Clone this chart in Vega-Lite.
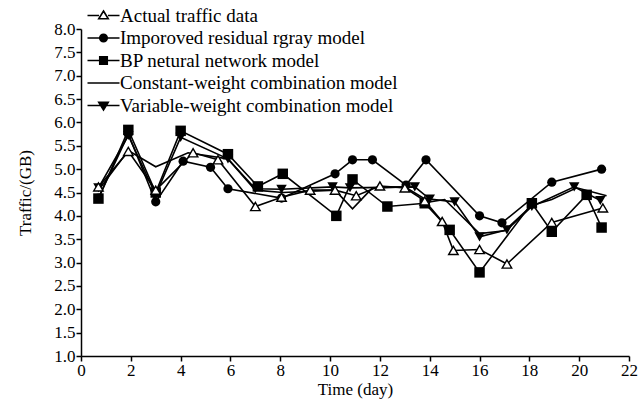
{
  "$schema": "https://vega.github.io/schema/vega-lite/v6.json",
  "width": 548,
  "height": 327,
  "autosize": {"type": "none"},
  "padding": {"left": 81, "top": 29, "right": 14, "bottom": 56},
  "background": "white",
  "config": {
    "view": {"stroke": null},
    "font": "Liberation Serif",
    "axis": {
      "grid": false,
      "domainColor": "black",
      "domainWidth": 1.5,
      "tickColor": "black",
      "tickWidth": 1.5,
      "tickSize": 5,
      "labelColor": "black",
      "labelFont": "Liberation Serif",
      "labelFontSize": 17,
      "titleFont": "Liberation Serif",
      "titleFontSize": 17,
      "titleFontWeight": "normal",
      "titleColor": "black"
    }
  },
  "datasets": {
    "traffic": [
      {"s": "Actual traffic data", "x": 0.7, "y": 4.62},
      {"s": "Actual traffic data", "x": 1.9, "y": 5.38},
      {"s": "Actual traffic data", "x": 3.0, "y": 4.55},
      {"s": "Actual traffic data", "x": 4.5, "y": 5.35},
      {"s": "Actual traffic data", "x": 5.5, "y": 5.2},
      {"s": "Actual traffic data", "x": 7.0, "y": 4.2},
      {"s": "Actual traffic data", "x": 8.05, "y": 4.4},
      {"s": "Actual traffic data", "x": 9.2, "y": 4.55},
      {"s": "Actual traffic data", "x": 10.2, "y": 4.55},
      {"s": "Actual traffic data", "x": 11.05, "y": 4.43},
      {"s": "Actual traffic data", "x": 12.0, "y": 4.64},
      {"s": "Actual traffic data", "x": 13.0, "y": 4.6},
      {"s": "Actual traffic data", "x": 13.8, "y": 4.32},
      {"s": "Actual traffic data", "x": 14.5, "y": 3.88},
      {"s": "Actual traffic data", "x": 14.95, "y": 3.26},
      {"s": "Actual traffic data", "x": 16.0, "y": 3.28},
      {"s": "Actual traffic data", "x": 17.1, "y": 2.97},
      {"s": "Actual traffic data", "x": 18.9, "y": 3.86},
      {"s": "Actual traffic data", "x": 20.95, "y": 4.17},

      {"s": "Imporoved residual rgray model", "x": 0.7, "y": 4.38},
      {"s": "Imporoved residual rgray model", "x": 1.9, "y": 5.75},
      {"s": "Imporoved residual rgray model", "x": 3.0, "y": 4.3},
      {"s": "Imporoved residual rgray model", "x": 4.1, "y": 5.17},
      {"s": "Imporoved residual rgray model", "x": 5.2, "y": 5.04},
      {"s": "Imporoved residual rgray model", "x": 5.9, "y": 4.58},
      {"s": "Imporoved residual rgray model", "x": 8.05, "y": 4.38},
      {"s": "Imporoved residual rgray model", "x": 10.2, "y": 4.9},
      {"s": "Imporoved residual rgray model", "x": 10.9, "y": 5.2},
      {"s": "Imporoved residual rgray model", "x": 11.7, "y": 5.2},
      {"s": "Imporoved residual rgray model", "x": 13.05, "y": 4.66},
      {"s": "Imporoved residual rgray model", "x": 13.85, "y": 5.2},
      {"s": "Imporoved residual rgray model", "x": 16.0, "y": 4.0},
      {"s": "Imporoved residual rgray model", "x": 16.9, "y": 3.85},
      {"s": "Imporoved residual rgray model", "x": 18.9, "y": 4.72},
      {"s": "Imporoved residual rgray model", "x": 20.9, "y": 5.0},

      {"s": "BP netural network model", "x": 0.7, "y": 4.37},
      {"s": "BP netural network model", "x": 1.9, "y": 5.84},
      {"s": "BP netural network model", "x": 3.0, "y": 4.5},
      {"s": "BP netural network model", "x": 4.0, "y": 5.82},
      {"s": "BP netural network model", "x": 5.9, "y": 5.32},
      {"s": "BP netural network model", "x": 7.1, "y": 4.63},
      {"s": "BP netural network model", "x": 8.1, "y": 4.9},
      {"s": "BP netural network model", "x": 10.25, "y": 4.0},
      {"s": "BP netural network model", "x": 10.9, "y": 4.78},
      {"s": "BP netural network model", "x": 12.3, "y": 4.2},
      {"s": "BP netural network model", "x": 13.8, "y": 4.27},
      {"s": "BP netural network model", "x": 14.8, "y": 3.7},
      {"s": "BP netural network model", "x": 16.0, "y": 2.79},
      {"s": "BP netural network model", "x": 18.1, "y": 4.27},
      {"s": "BP netural network model", "x": 18.9, "y": 3.66},
      {"s": "BP netural network model", "x": 20.3, "y": 4.45},
      {"s": "BP netural network model", "x": 20.9, "y": 3.75},

      {"s": "Constant-weight combination model", "x": 0.7, "y": 4.55},
      {"s": "Constant-weight combination model", "x": 1.9, "y": 5.4},
      {"s": "Constant-weight combination model", "x": 3.0, "y": 5.05},
      {"s": "Constant-weight combination model", "x": 4.3, "y": 5.35},
      {"s": "Constant-weight combination model", "x": 5.9, "y": 5.22},
      {"s": "Constant-weight combination model", "x": 7.0, "y": 4.55},
      {"s": "Constant-weight combination model", "x": 8.1, "y": 4.5},
      {"s": "Constant-weight combination model", "x": 10.2, "y": 4.55},
      {"s": "Constant-weight combination model", "x": 10.9, "y": 4.15},
      {"s": "Constant-weight combination model", "x": 11.7, "y": 4.6},
      {"s": "Constant-weight combination model", "x": 13.0, "y": 4.62},
      {"s": "Constant-weight combination model", "x": 14.0, "y": 4.3},
      {"s": "Constant-weight combination model", "x": 14.6, "y": 4.35},
      {"s": "Constant-weight combination model", "x": 16.0, "y": 3.62},
      {"s": "Constant-weight combination model", "x": 17.0, "y": 3.68},
      {"s": "Constant-weight combination model", "x": 18.1, "y": 4.22},
      {"s": "Constant-weight combination model", "x": 18.9, "y": 4.35},
      {"s": "Constant-weight combination model", "x": 19.9, "y": 4.6},
      {"s": "Constant-weight combination model", "x": 21.1, "y": 4.43},

      {"s": "Variable-weight combination model", "x": 0.7, "y": 4.6},
      {"s": "Variable-weight combination model", "x": 1.9, "y": 5.72},
      {"s": "Variable-weight combination model", "x": 3.0, "y": 4.45},
      {"s": "Variable-weight combination model", "x": 4.0, "y": 5.68},
      {"s": "Variable-weight combination model", "x": 5.9, "y": 5.22},
      {"s": "Variable-weight combination model", "x": 7.0, "y": 4.58},
      {"s": "Variable-weight combination model", "x": 8.05, "y": 4.57},
      {"s": "Variable-weight combination model", "x": 10.1, "y": 4.62},
      {"s": "Variable-weight combination model", "x": 10.8, "y": 4.6},
      {"s": "Variable-weight combination model", "x": 13.4, "y": 4.62},
      {"s": "Variable-weight combination model", "x": 14.0, "y": 4.36},
      {"s": "Variable-weight combination model", "x": 15.0, "y": 4.3},
      {"s": "Variable-weight combination model", "x": 16.0, "y": 3.55},
      {"s": "Variable-weight combination model", "x": 17.1, "y": 3.7},
      {"s": "Variable-weight combination model", "x": 18.1, "y": 4.2},
      {"s": "Variable-weight combination model", "x": 19.8, "y": 4.62},
      {"s": "Variable-weight combination model", "x": 20.85, "y": 4.33}
    ]
  },
  "data": {"name": "traffic"},
  "encoding": {
    "x": {
      "field": "x", "type": "quantitative",
      "scale": {"domain": [0, 22], "nice": false, "zero": false},
      "axis": {"values": [0, 2, 4, 6, 8, 10, 12, 14, 16, 18, 20, 22], "title": "Time (day)", "labelPadding": 1, "titlePadding": 3, "labelFlush": false}
    },
    "y": {
      "field": "y", "type": "quantitative",
      "scale": {"domain": [1, 8], "nice": false, "zero": false},
      "axis": {"values": [1, 1.5, 2, 2.5, 3, 3.5, 4, 4.5, 5, 5.5, 6, 6.5, 7, 7.5, 8], "format": ".1f", "title": "Traffic/(GB)", "labelPadding": 1, "titlePadding": 19, "labelFlush": false}
    }
  },
  "layer": [
    {
      "mark": {"type": "line", "strokeWidth": 1.6},
      "encoding": {
        "color": {
          "field": "s", "type": "nominal",
          "scale": {
            "domain": ["Actual traffic data", "Imporoved residual rgray model", "BP netural network model", "Constant-weight combination model", "Variable-weight combination model"],
            "range": ["black", "black", "black", "black", "black"]
          },
          "legend": {
            "title": null,
            "orient": "none",
            "legendX": 13,
            "legendY": -23,
            "padding": 0,
            "symbolSize": 100,
            "labelOffset": 7,
            "labelFont": "Liberation Serif",
            "labelFontSize": 19,
            "labelColor": "black",
            "labelLimit": 400,
            "rowPadding": 2.5,
            "encode": {
              "symbols": {
                "update": {
                  "shape": {"signal": "datum.value === 'Actual traffic data' ? 'M-3.2,0H-0.9M0.9,0H3.2M0,-0.9L0.95,0.65L-0.95,0.65Z' : datum.value === 'Imporoved residual rgray model' ? 'M-3.2,0H3.2M0.75,0A0.75,0.75,0,1,1,-0.75,0A0.75,0.75,0,1,1,0.75,0Z' : datum.value === 'BP netural network model' ? 'M-3.2,0H3.2M-0.75,-0.75H0.75V0.75H-0.75Z' : datum.value === 'Constant-weight combination model' ? 'M-3.2,0H3.2' : 'M-3.2,0H3.2M-0.95,-0.65L0.95,-0.65L0,0.9Z'"},
                  "fill": {"signal": "datum.value === 'Actual traffic data' ? 'white' : 'black'"},
                  "fillOpacity": {"value": 1},
                  "stroke": {"value": "black"},
                  "strokeWidth": {"value": 1.6},
                  "opacity": {"value": 1}
                }
              }
            }
          }
        },
        "detail": {"field": "s"},
        "order": {"field": "x", "type": "quantitative"}
      }
    },
    {
      "transform": [{"filter": "datum.s === 'Imporoved residual rgray model'"}],
      "mark": {"type": "point", "shape": "circle", "filled": true, "color": "black", "opacity": 1, "size": 85}
    },
    {
      "transform": [{"filter": "datum.s === 'BP netural network model'"}],
      "mark": {"type": "point", "shape": "square", "filled": true, "color": "black", "opacity": 1, "size": 110}
    },
    {
      "transform": [{"filter": "datum.s === 'Variable-weight combination model'"}],
      "mark": {"type": "point", "shape": "triangle-down", "filled": true, "color": "black", "opacity": 1, "size": 110}
    },
    {
      "transform": [{"filter": "datum.s === 'Actual traffic data'"}],
      "mark": {"type": "point", "shape": "triangle-up", "filled": true, "fill": "white", "stroke": "black", "strokeWidth": 1.4, "opacity": 1, "size": 90}
    }
  ]
}
